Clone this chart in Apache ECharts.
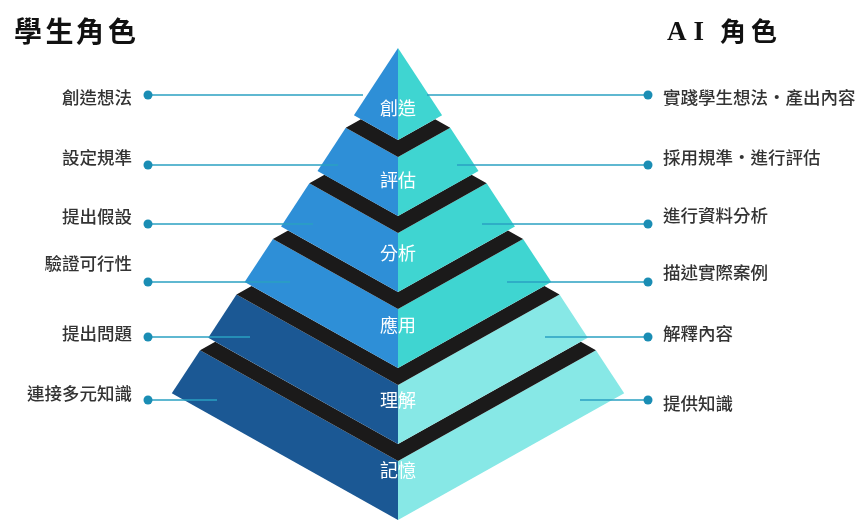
<!DOCTYPE html>
<html><head><meta charset="utf-8">
<script src="https://cdn.jsdelivr.net/npm/echarts@6/dist/echarts.min.js"></script>
<style>html,body{margin:0;padding:0;background:#fff}#c{width:864px;height:521px}</style>
</head><body><div id="c"></div>
<script>
// ---- data (bottom level first) ----
const levels = ['記憶', '理解', '應用', '分析', '評估', '創造'];
const studentRoles = ['連接多元知識', '提出問題', '驗證可行性', '提出假設', '設定規準', '創造想法'];
const aiRoles = ['提供知識', '解釋內容', '描述實際案例', '進行資料分析', '採用規準・進行評估', '實踐學生想法・產出內容'];
const leftTitle = ['學', '生', '角', '色'];
const rightTitle = ['A', 'I', '角', '色'];

// ---- layout ----
const W = 864, H = 521;
const CX = 398, APEX_Y = 48, BASE_Y = 520, PERIOD = 76, PIECE = 59;
const EDGE_K = 0.655, SLOPE = 0.56, NOTCH = 7;
const textY = [470, 400, 325, 253, 180, 108];
const leaderY = [400, 337, 282, 224, 165, 95];
const leftEnd = [217, 250, 290, 313, 338, 363];
const rightStart = [580, 545, 507, 482, 457, 427];
const leftTextY = [393, 333, 263, 216, 157, 97];
const rightTextY = [403, 333, 272, 215, 157, 97];
const DOT_L = 148, DOT_R = 648, TEXT_L = 132, TEXT_R = 663;
const leftColors = ['#1b5894', '#1b5894', '#2e8fd7', '#2e8fd7', '#2e8fd7', '#2e8fd7'];
const rightColors = ['#87e8e6', '#87e8e6', '#3fd5d1', '#3fd5d1', '#3fd5d1', '#3fd5d1'];
const BAND = '#1b1a1a';
const LINE = '#2aa0c2', DOT = '#1a8db4', LABEL = '#333333';
const CJK = '"Noto Sans CJK TC","Noto Sans CJK SC",sans-serif';

function outer(y0, side) {
  const d = EDGE_K * (y0 - APEX_Y) / (1 + EDGE_K * SLOPE);
  return [CX + side * d, y0 - SLOPE * d];
}
function pTop(i) { return i === levels.length - 1 ? APEX_Y : BASE_Y - PERIOD * i - PIECE; }
function pBot(i) { return BASE_Y - PERIOD * i; }

function pyramidItem(params, api) {
  const i = api.value(0);
  const c = p => api.coord(p);
  const top = pTop(i), bot = pBot(i);
  const kids = [];
  kids.push({ type: 'polygon', shape: { points: [[CX, top], outer(top, -1), outer(bot, -1), [CX, bot]].map(c) }, style: { fill: leftColors[i] } });
  kids.push({ type: 'polygon', shape: { points: [[CX, top], outer(top, 1), outer(bot, 1), [CX, bot]].map(c) }, style: { fill: rightColors[i] } });
  if (i < levels.length - 1) {
    const bTop = pBot(i + 1), bBot = top;
    const cL = outer(bTop, -1), cR = outer(bTop, 1);
    const nL = [cL[0] + NOTCH, cL[1] + SLOPE * NOTCH];
    const nR = [cR[0] - NOTCH, cR[1] + SLOPE * NOTCH];
    kids.push({ type: 'polygon', shape: { points: [[CX, bTop], nR, outer(bBot, 1), [CX, bBot], outer(bBot, -1), nL].map(c) }, style: { fill: BAND } });
  }
  const tp = c([CX, textY[i]]);
  kids.push({ type: 'text', style: { x: tp[0], y: tp[1], text: levels[i], fill: '#ffffff', font: '18px ' + CJK, align: 'center', verticalAlign: 'middle' } });
  return { type: 'group', children: kids };
}

function leaderItem(params, api) {
  const i = api.value(0);
  const c = p => api.coord(p);
  const y = leaderY[i];
  const a = c([DOT_L, y]), b = c([leftEnd[i], y]), d = c([rightStart[i], y]), e = c([DOT_R, y]);
  const lt = c([TEXT_L, leftTextY[i]]), rt = c([TEXT_R, rightTextY[i]]);
  return {
    type: 'group', children: [
      { type: 'line', shape: { x1: a[0], y1: a[1], x2: b[0], y2: b[1] }, style: { stroke: LINE, lineWidth: 1.6 } },
      { type: 'line', shape: { x1: d[0], y1: d[1], x2: e[0], y2: e[1] }, style: { stroke: LINE, lineWidth: 1.6 } },
      { type: 'circle', shape: { cx: a[0], cy: a[1], r: 4.5 }, style: { fill: DOT } },
      { type: 'circle', shape: { cx: e[0], cy: e[1], r: 4.5 }, style: { fill: DOT } },
      { type: 'text', style: { x: lt[0], y: lt[1], text: studentRoles[i], fill: LABEL, font: '500 17.5px ' + CJK, align: 'right', verticalAlign: 'middle' } },
      { type: 'text', style: { x: rt[0], y: rt[1], text: aiRoles[i], fill: LABEL, font: '500 17.5px ' + CJK, align: 'left', verticalAlign: 'middle' } }
    ]
  };
}

const leftCharX = [28, 59.5, 90, 122];
const rightCharX = [676, 702.5, 733, 764];
const titleGraphics = [];
leftTitle.forEach((ch, k) => titleGraphics.push({ type: 'text', left: leftCharX[k] - 14, top: 17, style: { text: ch, fill: '#111', font: 'bold 28px ' + CJK } }));
rightTitle.forEach((ch, k) => {
  const latin = /[A-Z]/.test(ch);
  titleGraphics.push({ type: 'text', left: rightCharX[k] - (latin ? 9 : 13), top: latin ? 20 : 18, style: { text: ch, fill: '#111', font: latin ? 'bold 27px "Liberation Serif",serif' : 'bold 26px ' + CJK } });
});

const chart = echarts.init(document.getElementById('c'), null, { renderer: 'canvas' });
chart.setOption({
  backgroundColor: '#ffffff',
  animation: false,
  grid: { left: 0, right: 0, top: 0, bottom: 0 },
  xAxis: { type: 'value', min: 0, max: W, show: false },
  yAxis: { type: 'value', min: 0, max: H, inverse: true, show: false },
  graphic: titleGraphics,
  series: [
    { type: 'custom', renderItem: pyramidItem, data: levels.map((n, i) => [i]), z: 2 },
    { type: 'custom', renderItem: leaderItem, data: levels.map((n, i) => [i]), z: 3 }
  ]
});
</script></body></html>
